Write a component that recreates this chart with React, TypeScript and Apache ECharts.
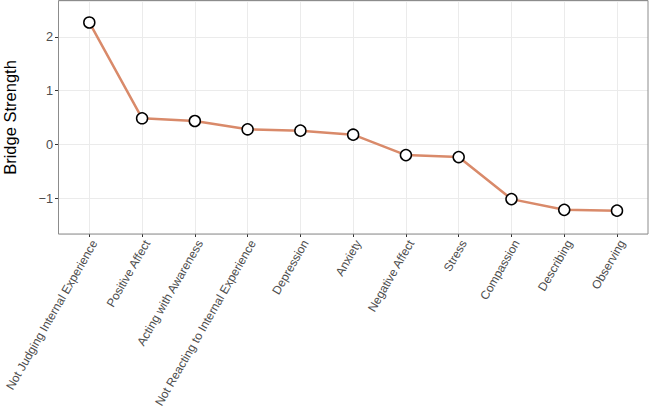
import React, { useEffect, useRef } from "react";
import * as echarts from "echarts";

const categories = [
  "Not Judging Internal Experience",
  "Positive Affect",
  "Acting with Awareness",
  "Not Reacting to Internal Experience",
  "Depression",
  "Anxiety",
  "Negative Affect",
  "Stress",
  "Compassion",
  "Describing",
  "Observing",
];

const bridgeStrength = [2.27, 0.485, 0.435, 0.28, 0.255, 0.18, -0.2, -0.237, -1.02, -1.22, -1.235];

const yMin = -1.67;
const yMax = 2.67;

const FONT = "'Liberation Sans', Arial, Helvetica, sans-serif";

export default function App() {
  const ref = useRef<HTMLDivElement>(null);
  useEffect(() => {
    if (!ref.current) return;
    const chart = echarts.init(ref.current, undefined, { renderer: "svg" });
    chart.setOption({
      animation: false,
      backgroundColor: "#ffffff",
      textStyle: { fontFamily: FONT },
      grid: [
        { left: 58, right: 1, top: 1, bottom: 176, show: false, containLabel: false, outerBoundsMode: "none" },
        { left: 89.3, right: 32, top: 1, bottom: 176, show: false, containLabel: false, outerBoundsMode: "none" },
      ],
      xAxis: [
        { gridIndex: 0, type: "value", min: 0, max: 1, show: false },
        {
          gridIndex: 1,
          type: "category",
          data: categories,
          boundaryGap: false,
          axisLine: { show: false, onZero: false },
          axisTick: { show: true, length: 3, lineStyle: { color: "#333333" } },
          splitLine: { show: true, lineStyle: { color: "#ebebeb", width: 1 } },
          axisLabel: {
            interval: 0,
            rotate: 60,
            fontSize: 12,
            color: "#4d4d4d",
            margin: 4,
            align: "right",
            verticalAlign: "top",
            fontFamily: FONT,
          },
        },
      ],
      yAxis: [
        {
          gridIndex: 0,
          type: "value",
          min: yMin,
          max: yMax,
          axisLine: { show: false, onZero: false },
          axisTick: { show: true, length: 3, lineStyle: { color: "#333333" } },
          splitLine: { show: true, lineStyle: { color: "#ebebeb", width: 1 } },
          axisLabel: {
            showMinLabel: false,
            showMaxLabel: false,
            fontSize: 12.8,
            color: "#4d4d4d",
            margin: 5,
            fontFamily: FONT,
            formatter: (v: number) => String(v).replace("-", "\u2212"),
          },
          name: "Bridge Strength",
          nameLocation: "middle",
          nameGap: 40,
          nameTextStyle: { fontSize: 16.5, color: "#000000", fontFamily: FONT },
        },
        { gridIndex: 1, type: "value", min: yMin, max: yMax, show: false },
      ],
      series: [
        {
          type: "line",
          xAxisIndex: 1,
          yAxisIndex: 1,
          data: bridgeStrength,
          symbol: "circle",
          symbolSize: 11,
          lineStyle: { color: "#d98a6a", width: 2.5 },
          itemStyle: { color: "#ffffff", borderColor: "#000000", borderWidth: 1.5 },
          z: 5,
        },
      ],
      graphic: [
        {
          type: "rect",
          z: 100,
          silent: true,
          shape: { x: 58.5, y: 0.5, width: 589.5, height: 233.5 },
          style: { fill: "transparent", stroke: "#8c8c8c", lineWidth: 1 },
        },
      ],
    });
    return () => chart.dispose();
  }, []);
  return (
    <div
      ref={ref}
      style={{ position: "fixed", left: 0, top: 0, width: 649, height: 410 }}
    />
  );
}
